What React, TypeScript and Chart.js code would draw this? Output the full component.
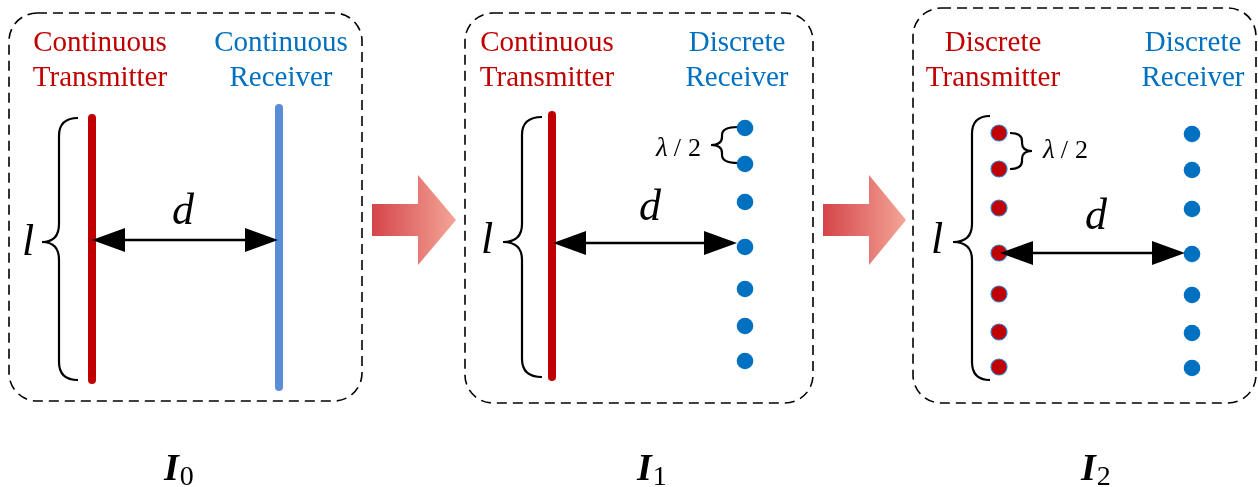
import { useEffect, useRef } from "react";
import { Chart, registerables } from "chart.js";
Chart.register(...registerables);

// Diagram coordinates are expressed in the reference's own units (0..1258 x 0..487)
const txLabels = [["Continuous", "Transmitter"], ["Continuous", "Transmitter"], ["Discrete", "Transmitter"]];
const rxLabels = [["Continuous", "Receiver"], ["Discrete", "Receiver"], ["Discrete", "Receiver"]];
const txLabelX = [100, 547, 993];
const rxLabelX = [281, 737, 1193];
const stageSubs = ["0", "1", "2"];
const stageX = [164, 637, 1081];

const redLinesX = [92, 552];
const redLinesTop = [118, 115];
const redLinesBottom = [380, 377];
const blueLineX = 279;
const blueLineTop = 108;
const blueLineBottom = 387;

const rxDots1X = 745;
const rxDots1Y = [128, 164, 202, 247, 289, 326, 361];
const txDots2X = 999;
const txDots2Y = [133, 169, 208, 253, 294, 332, 367];
const rxDots2X = 1192;
const rxDots2Y = [134, 170, 209, 254, 295, 333, 368];

const arrowFromX = [92, 553, 1000];
const arrowToX = [278, 737, 1185];
const arrowY = [240, 243, 253];
const dLabelX = [183, 650, 1096];
const dLabelY = [224, 220, 229];
const lLabelX = [28, 487, 937];
const lLabelY = [255, 253, 253];

const boxLeft = [9, 465, 913];
const boxRight = [362, 813, 1256];
const boxTop = [13, 13, 8];
const boxBottom = [401, 403, 403];

const bigBraceTip = [42, 503, 953];
const bigBraceSpine = [59, 522, 972];
const bigBraceEnd = [78, 542, 990];
const bigBraceTop = [118, 117, 116];
const bigBraceBottom = [380, 377, 380];
const bigBraceMid = [242, 242, 242];

const flowArrowStart = [372, 823];
const flowArrowNeck = [418, 869];
const flowArrowTip = [456, 906];
const flowArrowY = 220;

const RED = "#c00000";
const BLUE = "#0070c0";
const BLUE_LINE = "#5b8dd6";
const SERIF = "'Liberation Serif', 'Times New Roman', serif";

const pts = (x: number, ys: number[]) => ys.map((y) => ({ x, y }));

export default function App() {
  const ref = useRef<HTMLCanvasElement>(null);
  useEffect(() => {
    document.body.style.margin = "0";
    const canvas = ref.current!;
    const datasets: any[] = [];
    redLinesX.forEach((x, i) => {
      datasets.push({
        data: [{ x, y: redLinesTop[i] }, { x, y: redLinesBottom[i] }],
        showLine: true, borderColor: RED, borderWidth: 8, borderCapStyle: "round", pointRadius: 0,
      });
    });
    datasets.push({
      data: [{ x: blueLineX, y: blueLineTop }, { x: blueLineX, y: blueLineBottom }],
      showLine: true, borderColor: BLUE_LINE, borderWidth: 8, borderCapStyle: "round", pointRadius: 0,
    });
    arrowFromX.forEach((x0, i) => {
      datasets.push({
        data: [{ x: x0 + 20, y: arrowY[i] }, { x: arrowToX[i] - 20, y: arrowY[i] }],
        showLine: true, borderColor: "#000", borderWidth: 2.6, pointRadius: 0,
      });
    });
    datasets.push({ data: pts(rxDots1X, rxDots1Y), pointRadius: 8.3, backgroundColor: BLUE, borderWidth: 0 });
    datasets.push({ data: pts(rxDots2X, rxDots2Y), pointRadius: 8.3, backgroundColor: BLUE, borderWidth: 0 });
    datasets.push({ data: pts(txDots2X, txDots2Y), pointRadius: 8, backgroundColor: RED, borderColor: "#3a7cc4", borderWidth: 1.2 });

    const decor = {
      id: "decor",
      beforeDatasetsDraw(chart: any) {
        const { ctx } = chart;
        const sx = (v: number) => chart.scales.x.getPixelForValue(v);
        const sy = (v: number) => chart.scales.y.getPixelForValue(v);
        ctx.save();
        // dashed rounded boxes
        ctx.strokeStyle = "#000";
        ctx.lineWidth = 1.6;
        ctx.setLineDash([10, 6]);
        boxLeft.forEach((l, i) => {
          const x0 = sx(l), x1 = sx(boxRight[i]), y0 = sy(boxTop[i]), y1 = sy(boxBottom[i]);
          ctx.beginPath();
          ctx.roundRect(x0, y0, x1 - x0, y1 - y0, 28);
          ctx.stroke();
        });
        ctx.setLineDash([]);
        // flow arrows
        flowArrowStart.forEach((s, i) => {
          const x0 = sx(s), xn = sx(flowArrowNeck[i]), xt = sx(flowArrowTip[i]);
          const yc = sy(flowArrowY);
          const g = ctx.createLinearGradient(x0, 0, xt, 0);
          g.addColorStop(0, "#d44549");
          g.addColorStop(1, "#f4a597");
          ctx.fillStyle = g;
          ctx.beginPath();
          ctx.moveTo(x0, yc - 16);
          ctx.lineTo(xn, yc - 16);
          ctx.lineTo(xn, yc - 45);
          ctx.lineTo(xt, yc);
          ctx.lineTo(xn, yc + 45);
          ctx.lineTo(xn, yc + 16);
          ctx.lineTo(x0, yc + 16);
          ctx.closePath();
          ctx.fill();
        });
        // big braces
        ctx.strokeStyle = "#000";
        ctx.lineWidth = 2.2;
        const brace = (tip: number, spine: number, end: number, top: number, mid: number, bottom: number, r: number) => {
          const t = sx(tip), s = sx(spine), e = sx(end);
          const y0 = sy(top), ym = sy(mid), y1 = sy(bottom);
          ctx.beginPath();
          ctx.moveTo(e, y0);
          ctx.quadraticCurveTo(s, y0, s, y0 + r);
          ctx.lineTo(s, ym - r);
          ctx.quadraticCurveTo(s, ym, t, ym);
          ctx.quadraticCurveTo(s, ym, s, ym + r);
          ctx.lineTo(s, y1 - r);
          ctx.quadraticCurveTo(s, y1, e, y1);
          ctx.stroke();
        };
        bigBraceTip.forEach((t, i) =>
          brace(t, bigBraceSpine[i], bigBraceEnd[i], bigBraceTop[i], bigBraceMid[i], bigBraceBottom[i], 18)
        );
        // small lambda/2 braces
        brace(711, 722, 738, 127, 145, 163, 8);
        brace(1032, 1022, 1010, 133, 151, 169, 8);
        ctx.restore();
      },
      afterDatasetsDraw(chart: any) {
        const { ctx } = chart;
        const sx = (v: number) => chart.scales.x.getPixelForValue(v);
        const sy = (v: number) => chart.scales.y.getPixelForValue(v);
        ctx.save();
        // arrowheads
        ctx.fillStyle = "#000";
        arrowFromX.forEach((x0, i) => {
          const y = sy(arrowY[i]);
          const a = sx(x0), b = sx(arrowToX[i]);
          ctx.beginPath();
          ctx.moveTo(a, y);
          ctx.lineTo(a + 33, y - 12);
          ctx.lineTo(a + 33, y + 12);
          ctx.closePath();
          ctx.fill();
          ctx.beginPath();
          ctx.moveTo(b, y);
          ctx.lineTo(b - 33, y - 12);
          ctx.lineTo(b - 33, y + 12);
          ctx.closePath();
          ctx.fill();
        });
        // labels
        ctx.textAlign = "center";
        ctx.textBaseline = "alphabetic";
        ctx.font = `29px ${SERIF}`;
        txLabels.forEach((lines, i) => {
          ctx.fillStyle = RED;
          ctx.fillText(lines[0], sx(txLabelX[i]), sy(51));
          ctx.fillText(lines[1], sx(txLabelX[i]), sy(86));
          ctx.fillStyle = BLUE;
          ctx.fillText(rxLabels[i][0], sx(rxLabelX[i]), sy(51));
          ctx.fillText(rxLabels[i][1], sx(rxLabelX[i]), sy(86));
        });
        ctx.fillStyle = "#000";
        ctx.font = `italic 44px ${SERIF}`;
        dLabelX.forEach((x, i) => ctx.fillText("d", sx(x), sy(dLabelY[i])));
        lLabelX.forEach((x, i) => ctx.fillText("l", sx(x), sy(lLabelY[i])));
        // lambda / 2
        const lam = (xLeft: number, base: number) => {
          let x = sx(xLeft);
          ctx.textAlign = "left";
          ctx.font = `italic 27px ${SERIF}`;
          ctx.fillText("\u03bb", x, sy(base));
          x += ctx.measureText("\u03bb").width + 6;
          ctx.font = `26px ${SERIF}`;
          ctx.fillText("/", x, sy(base));
          x += ctx.measureText("/").width + 7;
          ctx.fillText("2", x, sy(base));
        };
        lam(656, 156);
        lam(1043, 158);
        // stage labels
        stageSubs.forEach((s, i) => {
          ctx.textAlign = "left";
          ctx.font = `italic bold 38px ${SERIF}`;
          const x = sx(stageX[i]);
          ctx.fillText("I", x, sy(480));
          const w = ctx.measureText("I").width;
          ctx.font = `28px ${SERIF}`;
          ctx.fillText(s, x + w + 1, sy(485));
        });
        ctx.restore();
      },
    };

    const chart = new Chart(canvas, {
      type: "scatter",
      data: { datasets },
      options: {
        animation: false,
        responsive: false,
        events: [],
        layout: { padding: 0, autoPadding: false },
        plugins: { legend: { display: false }, tooltip: { enabled: false } },
        scales: {
          x: { type: "linear", min: 0, max: 1258, display: false },
          y: { type: "linear", min: 0, max: 487, reverse: true, display: false },
        },
        elements: { line: { tension: 0 } },
      },
      plugins: [decor],
    } as any);
    return () => chart.destroy();
  }, []);
  return (
    <div style={{ width: 1258, height: 487 }}>
      <canvas ref={ref} width={1258} height={487} style={{ display: "block", width: 1258, height: 487 }} />
    </div>
  );
}
